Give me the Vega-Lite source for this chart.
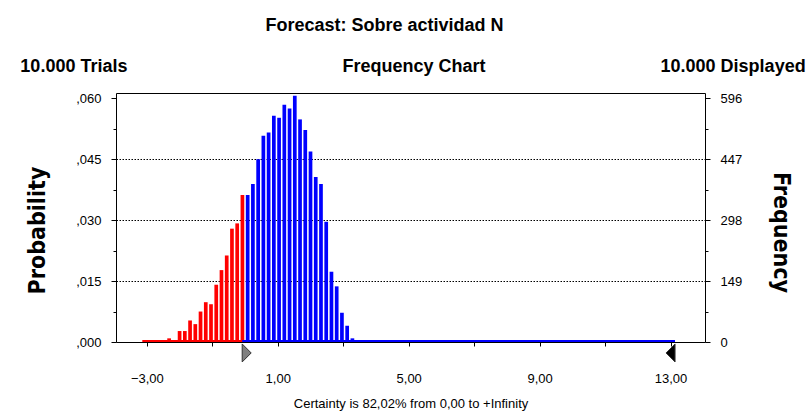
{
  "$schema": "https://vega.github.io/schema/vega-lite/v6.json",
  "width": 589,
  "height": 249,
  "autosize": "none",
  "padding": {"left": 116, "top": 93, "right": 101, "bottom": 73},
  "background": "white",
  "config": {
    "view": {"stroke": "black", "strokeWidth": 1},
    "font": "Liberation Sans"
  },
  "title": {
    "text": "Forecast: Sobre actividad N",
    "anchor": "middle",
    "frame": "group",
    "dx": -26,
    "offset": 23,
    "font": "Liberation Sans",
    "fontSize": 18,
    "fontWeight": "bold",
    "color": "black"
  },
  "datasets": {
    "bars": [
      {"x": -2.48, "p": 0.0004, "c": "red"},
      {"x": -2.32, "p": 0.0009, "c": "red"},
      {"x": -2.16, "p": 0.0004, "c": "red"},
      {"x": -2.00, "p": 0.0027, "c": "red"},
      {"x": -1.84, "p": 0.0027, "c": "red"},
      {"x": -1.68, "p": 0.0053, "c": "red"},
      {"x": -1.52, "p": 0.0044, "c": "red"},
      {"x": -1.36, "p": 0.0075, "c": "red"},
      {"x": -1.20, "p": 0.0098, "c": "red"},
      {"x": -1.04, "p": 0.0093, "c": "red"},
      {"x": -0.88, "p": 0.0141, "c": "red"},
      {"x": -0.72, "p": 0.0177, "c": "red"},
      {"x": -0.56, "p": 0.0213, "c": "red"},
      {"x": -0.40, "p": 0.0279, "c": "red"},
      {"x": -0.24, "p": 0.0292, "c": "red"},
      {"x": -0.08, "p": 0.0362, "c": "red"},
      {"x": 0.08, "p": 0.0362, "c": "blue"},
      {"x": 0.24, "p": 0.0389, "c": "blue"},
      {"x": 0.40, "p": 0.0450, "c": "blue"},
      {"x": 0.56, "p": 0.0508, "c": "blue"},
      {"x": 0.72, "p": 0.0516, "c": "blue"},
      {"x": 0.88, "p": 0.0557, "c": "blue"},
      {"x": 1.04, "p": 0.0552, "c": "blue"},
      {"x": 1.20, "p": 0.0584, "c": "blue"},
      {"x": 1.36, "p": 0.0575, "c": "blue"},
      {"x": 1.52, "p": 0.0606, "c": "blue"},
      {"x": 1.68, "p": 0.0548, "c": "blue"},
      {"x": 1.84, "p": 0.0522, "c": "blue"},
      {"x": 2.00, "p": 0.0469, "c": "blue"},
      {"x": 2.16, "p": 0.0406, "c": "blue"},
      {"x": 2.32, "p": 0.0389, "c": "blue"},
      {"x": 2.48, "p": 0.0296, "c": "blue"},
      {"x": 2.64, "p": 0.0173, "c": "blue"},
      {"x": 2.80, "p": 0.0137, "c": "blue"},
      {"x": 2.96, "p": 0.0072, "c": "blue"},
      {"x": 3.12, "p": 0.0040, "c": "blue"},
      {"x": 3.28, "p": 0.0009, "c": "blue"},
      {"x": 3.44, "p": 0.0004, "c": "blue"}
    ],
    "base": [
      {"from": -3.0, "to": 0.0, "c": "red"},
      {"from": 0.0, "to": 13.0, "c": "blue"}
    ],
    "markers": [
      {"at": 0.0, "m": "lower"},
      {"at": 13.0, "m": "upper"}
    ]
  },
  "layer": [
    {
      "data": {"name": "bars"},
      "mark": {"type": "bar", "width": 3.7},
      "encoding": {
        "x": {
          "field": "x", "type": "quantitative",
          "scale": {"domain": [-3.79, 13.9], "nice": false, "zero": false},
          "axis": {
            "orient": "bottom",
            "title": "Certainty is 82,02% from 0,00 to +Infinity",
            "values": [-3, -1, 1, 3, 5, 7, 9, 11, 13],
            "labelExpr": "(datum.value + 3) % 4 == 0 ? replace(format(datum.value, '.2f'), '.', ',') : ''",
            "domain": false,
            "grid": false,
            "tickSize": 4,
            "tickColor": "black",
            "labelPadding": 26,
            "labelFont": "Liberation Sans",
            "labelFontSize": 13,
            "labelColor": "black",
            "titleFont": "Liberation Sans",
            "titleFontSize": 13,
            "titleFontWeight": "normal",
            "titleColor": "black",
            "titleBaseline": "middle",
            "titleY": 61
          }
        },
        "y": {
          "field": "p", "type": "quantitative",
          "scale": {"domain": [0, 0.0613], "nice": false, "zero": true},
          "axis": {
            "orient": "left",
            "title": "Probability",
            "values": [0, 0.0075, 0.015, 0.0225, 0.03, 0.0375, 0.045, 0.0525, 0.06],
            "labelExpr": "abs(datum.value / 0.015 - round(datum.value / 0.015)) < 0.001 ? replace(format(datum.value, '.3f'), '0.', ',') : ''",
            "tickSize": {"condition": {"test": "abs(datum.value / 0.015 - round(datum.value / 0.015)) < 0.001", "value": 5}, "value": 3},
            "tickColor": "black",
            "domain": false,
            "grid": true,
            "gridColor": "black",
            "gridDash": [1.5, 1.5],
            "gridOpacity": {"condition": {"test": "datum.value > 0.001 && datum.value < 0.059 && abs(datum.value / 0.015 - round(datum.value / 0.015)) < 0.001", "value": 1}, "value": 0},
            "labelPadding": 10,
            "labelFont": "Liberation Sans",
            "labelFontSize": 13,
            "labelColor": "black",
            "titleFont": "DejaVu Sans Condensed",
            "titleFontSize": 23,
            "titleFontWeight": "bold",
            "titleColor": "black",
            "titleAngle": -90,
            "titleBaseline": "middle",
            "titleX": -79,
            "titleY": 137
          }
        },
        "color": {
          "field": "c", "type": "nominal",
          "scale": {"domain": ["red", "blue"], "range": ["#FF0000", "#0000FF"]},
          "legend": null
        }
      }
    },
    {
      "data": {"name": "base"},
      "mark": {"type": "rule", "strokeWidth": 2, "yOffset": -1},
      "encoding": {
        "x": {"field": "from", "type": "quantitative", "axis": null, "scale": {"domain": [-3.79, 13.9], "nice": false, "zero": false}},
        "x2": {"field": "to"},
        "y": {"datum": 0, "type": "quantitative", "axis": null, "scale": {"domain": [0, 0.0613], "nice": false, "zero": true}},
        "color": {
          "field": "c", "type": "nominal",
          "scale": {"domain": ["red", "blue"], "range": ["#FF0000", "#0000FF"]},
          "legend": null
        }
      }
    },
    {
      "data": {"name": "markers"},
      "mark": {"type": "point", "filled": true, "size": 324, "opacity": 1, "stroke": "#333333", "strokeWidth": 1},
      "encoding": {
        "x": {"field": "at", "type": "quantitative", "axis": null, "scale": {"domain": [-3.79, 13.9], "nice": false, "zero": false}},
        "y": {"datum": -0.0027, "type": "quantitative", "axis": null, "scale": {"domain": [0, 0.0613], "nice": false, "zero": true}},
        "shape": {
          "field": "m", "type": "nominal",
          "scale": {"domain": ["lower", "upper"], "range": ["M0,-1L1,0L0,1Z", "M0,-1L-1,0L0,1Z"]},
          "legend": null
        },
        "fill": {
          "field": "m", "type": "nominal",
          "scale": {"domain": ["lower", "upper"], "range": ["#808080", "#000000"]},
          "legend": null
        }
      }
    },
    {
      "mark": {"type": "rule", "opacity": 0},
      "encoding": {
        "x": {
          "datum": 0, "type": "quantitative",
          "scale": {"domain": [0, 1]},
          "axis": {
            "orient": "top",
            "title": "10.000 Trials\u00a0\u00a0\u00a0\u00a0\u00a0\u00a0\u00a0\u00a0\u00a0\u00a0\u00a0\u00a0\u00a0\u00a0\u00a0\u00a0\u00a0\u00a0\u00a0\u00a0\u00a0\u00a0\u00a0\u00a0\u00a0\u00a0\u00a0\u00a0\u00a0\u00a0\u00a0\u00a0\u00a0\u00a0\u00a0\u00a0\u00a0\u00a0\u00a0\u00a0\u00a0\u00a0\u00a0Frequency Chart\u00a0\u00a0\u00a0\u00a0\u00a0\u00a0\u00a0\u00a0\u00a0\u00a0\u00a0\u00a0\u00a0\u00a0\u00a0\u00a0\u00a0\u00a0\u00a0\u00a0\u00a0\u00a0\u00a0\u00a0\u00a0\u00a0\u00a0\u00a0\u00a0\u00a0\u00a0\u00a0\u00a0\u00a0\u00a010.000 Displayed",
            "ticks": false,
            "labels": false,
            "domain": false,
            "grid": false,
            "titleFont": "Liberation Sans",
            "titleFontSize": 18,
            "titleFontWeight": "bold",
            "titleColor": "black",
            "titleAlign": "center",
            "titleBaseline": "alphabetic",
            "titleX": 296.5,
            "titleY": -21.3
          }
        },
        "y": {
          "datum": 0, "type": "quantitative",
          "scale": {"domain": [0, 608.9], "nice": false, "zero": true},
          "axis": {
            "orient": "right",
            "title": "Frequency",
            "values": [0, 74.5, 149, 223.5, 298, 372.5, 447, 521.5, 596],
            "labelExpr": "datum.value % 149 == 0 ? format(datum.value, 'd') : ''",
            "tickSize": {"condition": {"test": "datum.value % 149 == 0", "value": 5}, "value": 3},
            "tickColor": "black",
            "domain": false,
            "grid": false,
            "labelPadding": 10,
            "labelFont": "Liberation Sans",
            "labelFontSize": 13,
            "labelColor": "black",
            "titleFont": "DejaVu Sans Condensed",
            "titleFontSize": 23,
            "titleFontWeight": "bold",
            "titleColor": "black",
            "titleAngle": 90,
            "titleBaseline": "middle",
            "titleX": 75,
            "titleY": 139
          }
        }
      }
    }
  ],
  "resolve": {"scale": {"x": "independent", "y": "independent"}}
}
